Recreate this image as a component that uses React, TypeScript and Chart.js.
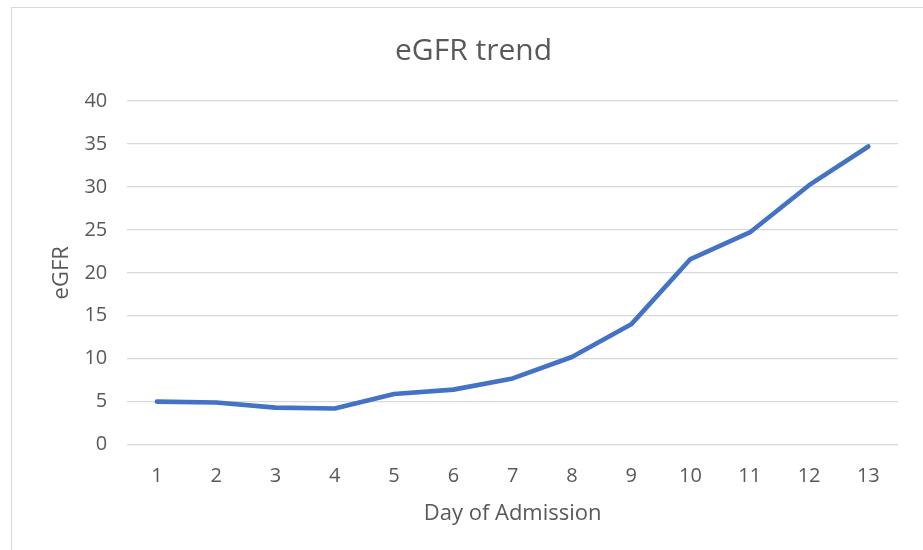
import React, { useEffect, useRef } from "react";
import { Chart, registerables } from "chart.js";

Chart.register(...registerables);

const days: string[] = ["1", "2", "3", "4", "5", "6", "7", "8", "9", "10", "11", "12", "13"];
const egfr: number[] = [5.0, 4.9, 4.3, 4.2, 5.9, 6.4, 7.7, 10.2, 14.0, 21.6, 24.7, 30.2, 34.7];
const yTicks: number[] = [0, 5, 10, 15, 20, 25, 30, 35, 40];

const TEXT = "#595959";
const FONT = "'Open Sans', 'Noto Sans', sans-serif";

export default function App() {
  const ref = useRef<HTMLCanvasElement | null>(null);

  useEffect(() => {
    if (!ref.current) return;
    const chart = new Chart(ref.current, {
      type: "line",
      data: {
        labels: days,
        datasets: [
          {
            label: "eGFR",
            data: egfr,
            borderColor: "#4472C4",
            backgroundColor: "#4472C4",
            borderWidth: 4.6,
            pointRadius: 0,
            tension: 0,
            borderCapStyle: "round",
            borderJoinStyle: "round",
          },
        ],
      },
      options: {
        animation: false,
        responsive: false,
        maintainAspectRatio: false,
        layout: { padding: { left: 49, right: 25, top: 33, bottom: 23 } },
        plugins: {
          legend: { display: false },
          tooltip: { enabled: false },
          title: {
            display: true,
            text: "eGFR trend",
            color: TEXT,
            font: { family: FONT, size: 30, weight: "normal" },
            padding: { top: 0, bottom: 32 },
          },
        },
        scales: {
          x: {
            offset: true,
            grid: { display: false, drawTicks: false },
            border: { display: false },
            ticks: {
              color: TEXT,
              font: { family: FONT, size: 20 },
              padding: 20,
              maxRotation: 0,
            },
            title: {
              display: true,
              text: "Day of Admission",
              color: TEXT,
              font: { family: FONT, size: 22 },
              padding: { top: -8, bottom: 0 },
            },
          },
          y: {
            min: 0,
            max: 40,
            afterBuildTicks: (axis: any) => {
              axis.ticks = yTicks.map((v) => ({ value: v }));
            },
            grid: { color: "#d9d9d9", lineWidth: 1.3, drawTicks: false },
            border: { display: false },
            ticks: {
              color: TEXT,
              font: { family: FONT, size: 20 },
              padding: 20,
            },
            title: {
              display: true,
              text: "eGFR",
              color: TEXT,
              font: { family: FONT, size: 22 },
              padding: { top: 0, bottom: -11 },
            },
          },
        },
      },
    });
    return () => chart.destroy();
  }, []);

  return (
    <div
      style={{
        position: "absolute",
        left: 0,
        top: 0,
        width: 923,
        height: 550,
        background: "#fff",
        overflow: "hidden",
      }}
    >
      <div
        style={{
          position: "absolute",
          left: 11,
          top: 7,
          width: 960,
          height: 600,
          border: "1.5px solid #d9d9d9",
          boxSizing: "border-box",
        }}
      />
      <canvas
        ref={ref}
        width={923}
        height={550}
        style={{ position: "absolute", left: 0, top: 0, width: 923, height: 550 }}
      />
    </div>
  );
}
